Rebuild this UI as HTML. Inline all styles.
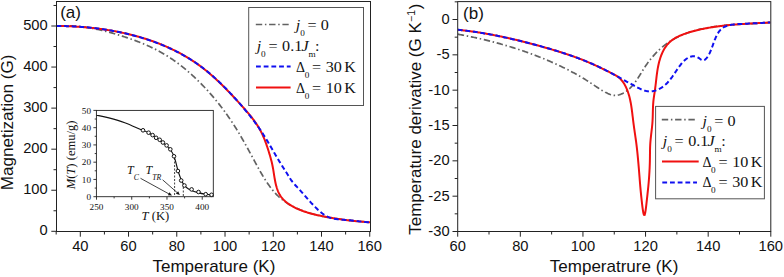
<!DOCTYPE html>
<html><head><meta charset="utf-8"><style>
html,body{margin:0;padding:0;background:#fff;}
body{width:784px;height:277px;overflow:hidden;}
svg{display:block;}
</style></head><body>
<svg width="784" height="277" viewBox="0 0 784 277">
<rect width="784" height="277" fill="#fff"/>
<defs><clipPath id="cl"><rect x="56.5" y="1.5" width="314.0" height="230.0"/></clipPath><clipPath id="cr"><rect x="457.7" y="1.6" width="313.1" height="229.9"/></clipPath></defs>
<g clip-path="url(#cl)" fill="none">
<path d="M56.48 26.21 L57.47 26.13 L58.47 26.06 L59.47 26.00 L60.46 25.94 L61.46 25.90 L62.46 25.86 L63.45 25.84 L64.45 25.82 L65.45 25.81 L66.45 25.80 L67.45 25.81 L68.44 25.82 L69.44 25.85 L70.44 25.88 L71.44 25.91 L72.43 25.96 L73.43 26.01 L74.43 26.07 L75.42 26.14 L76.42 26.21 L77.41 26.30 L78.41 26.38 L79.40 26.48 L80.39 26.58 L81.39 26.69 L82.38 26.81 L83.37 26.93 L84.36 27.06 L85.35 27.20 L86.33 27.34 L87.32 27.49 L88.31 27.65 L89.29 27.81 L90.28 27.97 L91.26 28.15 L92.24 28.33 L93.22 28.51 L94.20 28.70 L95.18 28.89 L96.16 29.09 L97.14 29.30 L98.11 29.51 L99.09 29.72 L100.06 29.94 L101.03 30.17 L102.00 30.39 L102.97 30.63 L103.94 30.87 L104.91 31.11 L105.88 31.35 L106.84 31.60 L107.81 31.86 L108.77 32.12 L109.74 32.38 L110.70 32.64 L111.66 32.91 L112.62 33.19 L113.58 33.46 L114.54 33.74 L115.50 34.02 L116.45 34.31 L117.41 34.60 L118.36 34.89 L119.32 35.18 L120.27 35.48 L121.22 35.78 L122.17 36.08 L123.12 36.39 L124.07 36.69 L125.02 37.00 L125.97 37.32 L126.91 37.63 L127.86 37.95 L128.80 38.28 L129.75 38.60 L130.69 38.93 L131.63 39.27 L132.57 39.60 L133.51 39.94 L134.44 40.29 L135.38 40.63 L136.31 40.99 L137.25 41.34 L138.18 41.70 L139.11 42.06 L140.04 42.43 L140.96 42.80 L141.89 43.18 L142.81 43.56 L143.73 43.95 L144.65 44.33 L145.57 44.73 L146.48 45.13 L147.39 45.53 L148.31 45.94 L149.21 46.35 L150.12 46.77 L151.02 47.19 L151.93 47.62 L152.83 48.05 L153.72 48.49 L154.62 48.93 L155.51 49.38 L156.40 49.84 L157.28 50.30 L158.17 50.76 L159.05 51.23 L159.92 51.71 L160.80 52.19 L161.67 52.68 L162.54 53.17 L163.40 53.67 L164.26 54.17 L165.12 54.69 L165.97 55.20 L166.82 55.73 L167.67 56.25 L168.51 56.79 L169.35 57.33 L170.19 57.87 L171.02 58.43 L171.85 58.98 L172.67 59.54 L173.49 60.11 L174.31 60.68 L175.13 61.26 L175.94 61.84 L176.74 62.43 L177.55 63.02 L178.35 63.62 L179.14 64.22 L179.94 64.83 L180.72 65.44 L181.51 66.05 L182.29 66.67 L183.07 67.30 L183.85 67.93 L184.62 68.56 L185.39 69.20 L186.15 69.84 L186.91 70.48 L187.67 71.13 L188.43 71.78 L189.18 72.44 L189.93 73.10 L190.67 73.76 L191.42 74.43 L192.16 75.10 L192.89 75.78 L193.62 76.45 L194.35 77.13 L195.08 77.82 L195.80 78.51 L196.52 79.20 L197.24 79.89 L197.95 80.59 L198.66 81.29 L199.37 81.99 L200.08 82.70 L200.78 83.41 L201.48 84.12 L202.17 84.84 L202.87 85.55 L203.56 86.28 L204.25 87.00 L204.93 87.72 L205.61 88.45 L206.29 89.19 L206.97 89.92 L207.64 90.66 L208.31 91.40 L208.98 92.14 L209.64 92.88 L210.30 93.63 L210.96 94.38 L211.62 95.13 L212.27 95.89 L212.92 96.65 L213.56 97.41 L214.21 98.17 L214.85 98.94 L215.49 99.71 L216.12 100.48 L216.75 101.25 L217.38 102.03 L218.00 102.80 L218.63 103.58 L219.24 104.37 L219.86 105.15 L220.47 105.94 L221.08 106.73 L221.69 107.52 L222.29 108.32 L222.89 109.11 L223.49 109.91 L224.09 110.72 L224.68 111.52 L225.26 112.33 L225.85 113.14 L226.43 113.95 L227.01 114.76 L227.59 115.58 L228.16 116.39 L228.73 117.21 L229.29 118.03 L229.86 118.86 L230.42 119.68 L230.97 120.51 L231.53 121.34 L232.08 122.18 L232.63 123.01 L233.17 123.85 L233.71 124.69 L234.25 125.53 L234.78 126.37 L235.31 127.21 L235.84 128.06 L236.37 128.91 L236.89 129.76 L237.41 130.61 L237.93 131.46 L238.45 132.32 L238.96 133.17 L239.47 134.03 L239.98 134.89 L240.48 135.75 L240.99 136.61 L241.49 137.48 L241.99 138.34 L242.49 139.21 L242.98 140.07 L243.48 140.94 L243.97 141.81 L244.46 142.68 L244.95 143.55 L245.43 144.42 L245.92 145.29 L246.40 146.16 L246.89 147.04 L247.37 147.91 L247.85 148.78 L248.33 149.66 L248.81 150.54 L249.29 151.41 L249.76 152.29 L250.24 153.16 L250.72 154.04 L251.19 154.92 L251.67 155.80 L252.14 156.68 L252.61 157.55 L253.09 158.43 L253.56 159.31 L254.04 160.19 L254.51 161.07 L254.98 161.95 L255.46 162.82 L255.93 163.70 L256.41 164.58 L256.89 165.46 L257.37 166.33 L257.85 167.21 L258.33 168.08 L258.82 168.95 L259.31 169.82 L259.80 170.69 L260.29 171.56 L260.79 172.42 L261.29 173.29 L261.79 174.15 L262.30 175.01 L262.81 175.86 L263.33 176.72 L263.85 177.57 L264.38 178.42 L264.91 179.26 L265.45 180.10 L265.99 180.94 L266.54 181.77 L267.09 182.60 L267.65 183.43 L268.22 184.25 L268.79 185.07 L269.37 185.88 L269.96 186.69 L270.56 187.49 L271.16 188.28 L271.78 189.07 L272.40 189.85 L273.04 190.62 L273.68 191.38 L274.33 192.13 L275.00 192.88 L275.67 193.61 L276.36 194.33 L277.06 195.05 L277.77 195.75 L278.50 196.43 L279.23 197.11 L279.98 197.77 L280.74 198.42 L281.51 199.05 L282.29 199.68 L283.08 200.29 L283.88 200.88 L284.69 201.47 L285.51 202.04 L286.34 202.59 L287.17 203.14 L288.02 203.67 L288.87 204.19 L289.73 204.70 L290.59 205.20 L291.46 205.68 L292.34 206.15 L293.23 206.61 L294.12 207.06 L295.02 207.50 L295.92 207.93 L296.82 208.35 L297.74 208.76 L298.65 209.15 L299.57 209.54 L300.50 209.92 L301.42 210.28 L302.35 210.64 L303.29 210.99 L304.23 211.33 L305.17 211.66 L306.11 211.98 L307.06 212.30 L308.01 212.60 L308.96 212.90 L309.92 213.19 L310.88 213.48 L311.84 213.75 L312.80 214.02 L313.76 214.28 L314.73 214.53 L315.69 214.78 L316.66 215.02 L317.63 215.26 L318.60 215.49 L319.58 215.71 L320.55 215.92 L321.53 216.14 L322.50 216.34 L323.48 216.54 L324.46 216.74 L325.44 216.93 L326.42 217.11 L327.40 217.30 L328.38 217.47 L329.37 217.64 L330.35 217.81 L331.33 217.97 L332.32 218.13 L333.31 218.29 L334.29 218.44 L335.28 218.59 L336.27 218.73 L337.26 218.87 L338.24 219.01 L339.23 219.14 L340.22 219.27 L341.21 219.40 L342.20 219.52 L343.19 219.64 L344.19 219.76 L345.18 219.88 L346.17 219.99 L347.16 220.10 L348.15 220.21 L349.14 220.32 L350.14 220.42 L351.13 220.52 L352.12 220.63 L353.12 220.73 L354.11 220.83 L355.10 220.92 L356.10 221.02 L357.09 221.12 L358.08 221.21 L359.08 221.31 L360.07 221.40 L361.06 221.49 L362.06 221.59 L363.05 221.68 L364.04 221.77 L365.04 221.87 L366.03 221.96 L367.03 222.05 L368.02 222.15 L369.01 222.24 L370.01 222.34" stroke="#626262" stroke-width="1.7" stroke-dasharray="6.4 2.7 1.5 2.7"/>
<path d="M56.67 25.93 L57.67 25.94 L58.67 25.96 L59.67 25.97 L60.66 25.99 L61.66 26.01 L62.66 26.03 L63.66 26.06 L64.66 26.08 L65.66 26.11 L66.66 26.15 L67.66 26.18 L68.65 26.22 L69.65 26.26 L70.65 26.31 L71.65 26.35 L72.65 26.40 L73.64 26.45 L74.64 26.51 L75.64 26.57 L76.63 26.63 L77.63 26.69 L78.63 26.76 L79.63 26.83 L80.62 26.90 L81.62 26.97 L82.61 27.05 L83.61 27.13 L84.61 27.21 L85.60 27.30 L86.60 27.39 L87.59 27.48 L88.58 27.57 L89.58 27.67 L90.57 27.77 L91.57 27.88 L92.56 27.98 L93.55 28.09 L94.55 28.21 L95.54 28.32 L96.53 28.44 L97.52 28.56 L98.51 28.69 L99.50 28.82 L100.49 28.95 L101.48 29.08 L102.47 29.22 L103.46 29.36 L104.45 29.51 L105.44 29.65 L106.43 29.81 L107.41 29.96 L108.40 30.12 L109.38 30.28 L110.37 30.44 L111.36 30.61 L112.34 30.78 L113.32 30.96 L114.31 31.13 L115.29 31.32 L116.27 31.50 L117.25 31.69 L118.23 31.88 L119.21 32.08 L120.19 32.28 L121.17 32.48 L122.15 32.68 L123.12 32.89 L124.10 33.11 L125.07 33.32 L126.05 33.55 L127.02 33.77 L127.99 34.00 L128.97 34.23 L129.94 34.47 L130.91 34.71 L131.88 34.95 L132.84 35.20 L133.81 35.45 L134.78 35.70 L135.74 35.96 L136.70 36.22 L137.67 36.49 L138.63 36.76 L139.59 37.04 L140.55 37.31 L141.51 37.60 L142.46 37.88 L143.42 38.17 L144.37 38.47 L145.33 38.77 L146.28 39.07 L147.23 39.38 L148.18 39.69 L149.13 40.01 L150.07 40.33 L151.02 40.65 L151.96 40.98 L152.90 41.31 L153.84 41.65 L154.78 41.99 L155.72 42.34 L156.65 42.69 L157.59 43.04 L158.52 43.40 L159.45 43.77 L160.38 44.14 L161.31 44.51 L162.23 44.89 L163.15 45.27 L164.08 45.66 L164.99 46.05 L165.91 46.44 L166.83 46.84 L167.74 47.25 L168.65 47.66 L169.56 48.07 L170.47 48.49 L171.37 48.92 L172.27 49.35 L173.17 49.78 L174.07 50.22 L174.97 50.66 L175.86 51.11 L176.75 51.56 L177.64 52.02 L178.52 52.48 L179.41 52.95 L180.29 53.42 L181.16 53.90 L182.04 54.38 L182.91 54.87 L183.78 55.36 L184.65 55.86 L185.51 56.36 L186.37 56.87 L187.23 57.38 L188.08 57.90 L188.93 58.42 L189.78 58.95 L190.63 59.48 L191.47 60.02 L192.31 60.56 L193.14 61.11 L193.98 61.66 L194.80 62.22 L195.63 62.78 L196.45 63.35 L197.27 63.92 L198.08 64.50 L198.90 65.09 L199.70 65.67 L200.51 66.27 L201.31 66.87 L202.10 67.47 L202.89 68.08 L203.68 68.69 L204.47 69.31 L205.25 69.93 L206.03 70.56 L206.80 71.19 L207.57 71.82 L208.34 72.46 L209.11 73.11 L209.87 73.75 L210.62 74.41 L211.38 75.06 L212.13 75.72 L212.88 76.38 L213.62 77.05 L214.37 77.71 L215.10 78.39 L215.84 79.06 L216.57 79.74 L217.31 80.42 L218.03 81.10 L218.76 81.79 L219.48 82.48 L220.20 83.17 L220.92 83.87 L221.63 84.57 L222.35 85.27 L223.06 85.97 L223.77 86.67 L224.47 87.38 L225.18 88.09 L225.88 88.80 L226.58 89.51 L227.27 90.23 L227.97 90.94 L228.66 91.66 L229.36 92.38 L230.05 93.11 L230.74 93.83 L231.42 94.55 L232.11 95.28 L232.79 96.01 L233.48 96.74 L234.16 97.47 L234.84 98.20 L235.52 98.93 L236.20 99.67 L236.87 100.40 L237.55 101.14 L238.22 101.87 L238.90 102.61 L239.57 103.35 L240.24 104.09 L240.92 104.83 L241.59 105.57 L242.26 106.31 L242.92 107.05 L243.59 107.79 L244.25 108.54 L244.92 109.29 L245.58 110.04 L246.23 110.79 L246.89 111.55 L247.53 112.31 L248.18 113.07 L248.82 113.84 L249.46 114.61 L250.09 115.38 L250.72 116.16 L251.34 116.94 L251.95 117.73 L252.56 118.52 L253.17 119.31 L253.76 120.12 L254.35 120.92 L254.93 121.74 L255.50 122.56 L256.07 123.38 L256.62 124.21 L257.17 125.05 L257.70 125.89 L258.23 126.74 L258.75 127.59 L259.25 128.46 L259.75 129.32 L260.23 130.20 L260.70 131.08 L261.16 131.97 L261.61 132.86 L262.05 133.76 L262.47 134.66 L262.89 135.57 L263.29 136.48 L263.68 137.40 L264.07 138.32 L264.44 139.25 L264.81 140.18 L265.17 141.11 L265.52 142.05 L265.87 142.98 L266.21 143.92 L266.54 144.87 L266.86 145.81 L267.18 146.76 L267.50 147.70 L267.81 148.65 L268.11 149.60 L268.42 150.56 L268.72 151.51 L269.01 152.46 L269.30 153.42 L269.59 154.38 L269.88 155.33 L270.16 156.29 L270.43 157.25 L270.70 158.22 L270.96 159.18 L271.22 160.15 L271.46 161.11 L271.70 162.08 L271.93 163.06 L272.15 164.03 L272.36 165.01 L272.56 165.99 L272.75 166.97 L272.94 167.95 L273.11 168.93 L273.28 169.92 L273.44 170.90 L273.60 171.89 L273.75 172.88 L273.91 173.86 L274.06 174.85 L274.22 175.84 L274.38 176.82 L274.54 177.81 L274.71 178.79 L274.89 179.78 L275.07 180.76 L275.27 181.74 L275.47 182.72 L275.69 183.69 L275.92 184.66 L276.17 185.63 L276.43 186.59 L276.71 187.55 L277.01 188.50 L277.34 189.45 L277.69 190.39 L278.06 191.31 L278.46 192.23 L278.89 193.13 L279.36 194.01 L279.85 194.88 L280.38 195.73 L280.94 196.56 L281.53 197.36 L282.15 198.14 L282.81 198.90 L283.49 199.63 L284.19 200.34 L284.92 201.02 L285.67 201.68 L286.44 202.32 L287.22 202.94 L288.03 203.53 L288.84 204.11 L289.67 204.66 L290.52 205.20 L291.37 205.72 L292.23 206.22 L293.11 206.70 L293.99 207.17 L294.88 207.62 L295.78 208.06 L296.68 208.49 L297.59 208.90 L298.51 209.29 L299.43 209.68 L300.36 210.05 L301.29 210.42 L302.22 210.77 L303.16 211.11 L304.11 211.44 L305.05 211.76 L306.00 212.07 L306.95 212.38 L307.91 212.67 L308.87 212.95 L309.83 213.23 L310.79 213.50 L311.75 213.76 L312.72 214.01 L313.69 214.25 L314.66 214.49 L315.63 214.72 L316.60 214.95 L317.58 215.16 L318.55 215.38 L319.53 215.59 L320.51 215.79 L321.49 215.99 L322.47 216.18 L323.45 216.38 L324.43 216.56 L325.41 216.75 L326.39 216.93 L327.38 217.11 L328.36 217.29 L329.34 217.47 L330.33 217.64 L331.31 217.81 L332.30 217.97 L333.28 218.14 L334.27 218.30 L335.25 218.46 L336.24 218.61 L337.23 218.77 L338.22 218.92 L339.20 219.07 L340.19 219.21 L341.18 219.35 L342.17 219.49 L343.16 219.63 L344.15 219.76 L345.14 219.89 L346.13 220.02 L347.12 220.15 L348.11 220.27 L349.10 220.39 L350.10 220.51 L351.09 220.62 L352.08 220.74 L353.07 220.85 L354.07 220.95 L355.06 221.06 L356.06 221.16 L357.05 221.25 L358.04 221.35 L359.04 221.44 L360.03 221.53 L361.03 221.62 L362.02 221.70 L363.02 221.78 L364.02 221.86 L365.01 221.94 L366.01 222.01 L367.01 222.08 L368.00 222.14 L369.00 222.21 L370.00 222.27" stroke="#f01010" stroke-width="2"/>
<path d="M56.52 26.02 L57.52 26.01 L58.52 26.02 L59.51 26.02 L60.51 26.03 L61.51 26.04 L62.51 26.05 L63.51 26.07 L64.51 26.09 L65.51 26.11 L66.50 26.13 L67.50 26.16 L68.50 26.19 L69.50 26.23 L70.50 26.26 L71.49 26.30 L72.49 26.35 L73.49 26.39 L74.49 26.44 L75.48 26.50 L76.48 26.55 L77.48 26.61 L78.47 26.67 L79.47 26.74 L80.47 26.81 L81.46 26.88 L82.46 26.95 L83.45 27.03 L84.45 27.11 L85.45 27.20 L86.44 27.28 L87.43 27.37 L88.43 27.47 L89.42 27.57 L90.42 27.67 L91.41 27.77 L92.40 27.88 L93.39 27.99 L94.39 28.10 L95.38 28.22 L96.37 28.34 L97.36 28.46 L98.35 28.59 L99.34 28.72 L100.33 28.85 L101.32 28.99 L102.31 29.13 L103.30 29.27 L104.28 29.42 L105.27 29.57 L106.26 29.72 L107.24 29.88 L108.23 30.04 L109.22 30.21 L110.20 30.37 L111.18 30.55 L112.17 30.72 L113.15 30.90 L114.13 31.08 L115.11 31.27 L116.09 31.45 L117.07 31.65 L118.05 31.84 L119.03 32.04 L120.01 32.24 L120.99 32.45 L121.96 32.66 L122.94 32.87 L123.91 33.09 L124.89 33.31 L125.86 33.54 L126.83 33.76 L127.80 34.00 L128.77 34.23 L129.74 34.47 L130.71 34.71 L131.68 34.96 L132.65 35.21 L133.61 35.46 L134.58 35.72 L135.54 35.98 L136.50 36.25 L137.47 36.51 L138.43 36.79 L139.39 37.06 L140.34 37.34 L141.30 37.63 L142.26 37.92 L143.21 38.21 L144.17 38.51 L145.12 38.81 L146.07 39.11 L147.02 39.42 L147.97 39.73 L148.91 40.05 L149.86 40.37 L150.80 40.69 L151.75 41.02 L152.69 41.35 L153.63 41.69 L154.57 42.03 L155.50 42.38 L156.44 42.73 L157.37 43.08 L158.31 43.44 L159.24 43.80 L160.16 44.17 L161.09 44.54 L162.02 44.92 L162.94 45.30 L163.86 45.68 L164.78 46.07 L165.70 46.47 L166.61 46.87 L167.53 47.27 L168.44 47.68 L169.35 48.09 L170.26 48.50 L171.16 48.92 L172.07 49.35 L172.97 49.78 L173.87 50.22 L174.76 50.66 L175.66 51.10 L176.55 51.55 L177.44 52.00 L178.32 52.46 L179.21 52.93 L180.09 53.39 L180.97 53.87 L181.85 54.35 L182.72 54.83 L183.59 55.32 L184.46 55.81 L185.33 56.31 L186.19 56.81 L187.05 57.32 L187.91 57.83 L188.76 58.34 L189.61 58.87 L190.46 59.39 L191.31 59.93 L192.15 60.46 L192.99 61.00 L193.82 61.55 L194.66 62.10 L195.48 62.66 L196.31 63.22 L197.13 63.79 L197.95 64.36 L198.77 64.94 L199.58 65.52 L200.38 66.11 L201.19 66.70 L201.99 67.30 L202.79 67.90 L203.58 68.51 L204.37 69.12 L205.15 69.73 L205.94 70.35 L206.72 70.98 L207.49 71.61 L208.26 72.24 L209.03 72.88 L209.80 73.52 L210.56 74.16 L211.32 74.81 L212.07 75.47 L212.83 76.12 L213.57 76.79 L214.32 77.45 L215.06 78.12 L215.80 78.79 L216.54 79.46 L217.27 80.14 L218.00 80.82 L218.73 81.51 L219.45 82.19 L220.17 82.89 L220.89 83.58 L221.61 84.28 L222.32 84.97 L223.03 85.68 L223.74 86.38 L224.44 87.09 L225.15 87.80 L225.84 88.51 L226.54 89.23 L227.24 89.94 L227.93 90.66 L228.62 91.39 L229.31 92.11 L229.99 92.84 L230.67 93.57 L231.35 94.30 L232.03 95.03 L232.71 95.76 L233.38 96.50 L234.06 97.24 L234.73 97.98 L235.39 98.72 L236.06 99.46 L236.73 100.21 L237.39 100.96 L238.05 101.71 L238.71 102.46 L239.37 103.21 L240.02 103.96 L240.68 104.71 L241.33 105.47 L241.98 106.23 L242.63 106.99 L243.28 107.75 L243.92 108.51 L244.57 109.27 L245.21 110.04 L245.85 110.80 L246.48 111.57 L247.12 112.34 L247.75 113.12 L248.38 113.89 L249.01 114.67 L249.63 115.45 L250.25 116.23 L250.87 117.01 L251.49 117.80 L252.10 118.59 L252.71 119.38 L253.32 120.17 L253.92 120.97 L254.52 121.76 L255.12 122.57 L255.71 123.37 L256.30 124.17 L256.89 124.98 L257.47 125.79 L258.05 126.61 L258.62 127.43 L259.19 128.25 L259.76 129.07 L260.32 129.89 L260.88 130.72 L261.43 131.55 L261.98 132.39 L262.53 133.22 L263.07 134.06 L263.60 134.91 L264.14 135.75 L264.67 136.60 L265.19 137.45 L265.72 138.30 L266.24 139.15 L266.75 140.00 L267.27 140.86 L267.78 141.71 L268.29 142.57 L268.80 143.43 L269.31 144.29 L269.82 145.15 L270.32 146.01 L270.83 146.88 L271.33 147.74 L271.83 148.60 L272.33 149.46 L272.83 150.33 L273.34 151.19 L273.84 152.05 L274.34 152.92 L274.84 153.78 L275.35 154.64 L275.85 155.51 L276.36 156.37 L276.86 157.23 L277.37 158.09 L277.88 158.95 L278.39 159.80 L278.91 160.66 L279.42 161.51 L279.94 162.37 L280.46 163.22 L280.99 164.07 L281.52 164.92 L282.05 165.76 L282.58 166.60 L283.12 167.45 L283.66 168.29 L284.20 169.12 L284.75 169.96 L285.29 170.80 L285.83 171.64 L286.37 172.48 L286.90 173.33 L287.43 174.17 L287.95 175.03 L288.47 175.88 L288.99 176.73 L289.51 177.58 L290.05 178.43 L290.59 179.26 L291.15 180.09 L291.73 180.90 L292.33 181.70 L292.96 182.48 L293.60 183.24 L294.26 183.99 L294.93 184.73 L295.61 185.47 L296.29 186.19 L296.98 186.92 L297.66 187.64 L298.35 188.37 L299.03 189.10 L299.70 189.84 L300.37 190.58 L301.04 191.32 L301.70 192.07 L302.37 192.82 L303.02 193.57 L303.68 194.32 L304.34 195.07 L304.99 195.82 L305.65 196.58 L306.30 197.33 L306.96 198.08 L307.62 198.84 L308.28 199.59 L308.94 200.33 L309.60 201.08 L310.27 201.82 L310.94 202.56 L311.61 203.30 L312.29 204.03 L312.97 204.76 L313.66 205.49 L314.36 206.20 L315.06 206.92 L315.76 207.62 L316.48 208.32 L317.20 209.01 L317.92 209.70 L318.66 210.37 L319.40 211.04 L320.16 211.69 L320.92 212.33 L321.70 212.96 L322.49 213.57 L323.29 214.16 L324.12 214.73 L324.95 215.27 L325.81 215.79 L326.68 216.27 L327.58 216.71 L328.49 217.12 L329.42 217.48 L330.37 217.81 L331.32 218.10 L332.29 218.35 L333.26 218.58 L334.24 218.77 L335.22 218.94 L336.21 219.09 L337.20 219.22 L338.19 219.34 L339.19 219.44 L340.18 219.53 L341.18 219.61 L342.17 219.68 L343.17 219.75 L344.16 219.81 L345.16 219.88 L346.16 219.95 L347.15 220.03 L348.15 220.11 L349.14 220.20 L350.14 220.30 L351.13 220.41 L352.12 220.52 L353.11 220.64 L354.10 220.76 L355.09 220.88 L356.09 221.01 L357.08 221.13 L358.07 221.26 L359.06 221.38 L360.05 221.50 L361.04 221.62 L362.03 221.73 L363.03 221.83 L364.02 221.93 L365.01 222.02 L366.01 222.10 L367.01 222.17 L368.00 222.23 L369.00 222.27 L370.00 222.30" stroke="#1010f0" stroke-width="2" stroke-dasharray="4.8 2.8"/>
</g>
<rect x="56.5" y="1.5" width="314.0" height="230.0" fill="none" stroke="#222" stroke-width="1"/>
<path d="M51.3 231.30H56.5 M53.5 210.77H56.5 M51.3 190.24H56.5 M53.5 169.71H56.5 M51.3 149.18H56.5 M53.5 128.65H56.5 M51.3 108.12H56.5 M53.5 87.59H56.5 M51.3 67.06H56.5 M53.5 46.53H56.5 M51.3 26.00H56.5 M53.5 5.47H56.5 M56.18 231.5V234.5 M80.30 231.5V236.7 M104.42 231.5V234.5 M128.54 231.5V236.7 M152.66 231.5V234.5 M176.78 231.5V236.7 M200.90 231.5V234.5 M225.02 231.5V236.7 M249.14 231.5V234.5 M273.26 231.5V236.7 M297.38 231.5V234.5 M321.50 231.5V236.7 M345.62 231.5V234.5 M369.74 231.5V236.7" stroke="#222" stroke-width="1" fill="none"/>
<g font-family="Liberation Sans, sans-serif" font-size="14.7" fill="#111" text-anchor="end">
<text x="47.7" y="235.3">0</text>
<text x="47.7" y="194.2">100</text>
<text x="47.7" y="153.2">200</text>
<text x="47.7" y="112.1">300</text>
<text x="47.7" y="71.1">400</text>
<text x="47.7" y="30.0">500</text>
</g><g font-family="Liberation Sans, sans-serif" font-size="14.7" fill="#111" text-anchor="middle">
<text x="80.3" y="250.8">40</text>
<text x="128.5" y="250.8">60</text>
<text x="176.8" y="250.8">80</text>
<text x="225.0" y="250.8">100</text>
<text x="273.3" y="250.8">120</text>
<text x="321.5" y="250.8">140</text>
<text x="369.7" y="250.8">160</text>
</g>
<text x="152.5" y="271.7" font-family="Liberation Sans, sans-serif" font-size="17" fill="#111">Temperature (K)</text>
<text transform="translate(13.4,122.4) rotate(-90)" text-anchor="middle" font-family="Liberation Sans, sans-serif" font-size="17.1" fill="#111">Magnetization (G)</text>
<text x="60.2" y="18.4" font-family="Liberation Sans, sans-serif" font-size="17" fill="#111">(a)</text>
<rect x="248.7" y="7.5" width="114.8" height="98" fill="#fff" stroke="#555" stroke-width="1"/>
<path d="M255.8 24.5H288.7" stroke="#626262" stroke-width="1.7" stroke-dasharray="6.4 2.7 1.5 2.7"/>
<path d="M256 87.4H290.6" stroke="#f01010" stroke-width="2"/>
<path d="M256 66.6H290.6" stroke="#1010f0" stroke-width="2" stroke-dasharray="4.8 2.9"/>
<text transform="translate(295.77,29.70) scale(1.040,1)" font-family="Liberation Serif, serif" fill="#111" font-size="15.5" font-style="italic">j</text><text x="300.20" y="35.70" font-family="Liberation Serif, serif" fill="#111" font-size="9.2">0</text><text transform="translate(307.62,29.70) scale(1.040,1)" font-family="Liberation Serif, serif" fill="#111" font-size="15.5">=</text><text transform="translate(320.80,29.70) scale(1.040,1)" font-family="Liberation Serif, serif" fill="#111" font-size="15.5">0</text>
<text transform="translate(256.67,50.80) scale(1.040,1)" font-family="Liberation Serif, serif" fill="#111" font-size="15.5" font-style="italic">j</text><text x="261.10" y="56.80" font-family="Liberation Serif, serif" fill="#111" font-size="9.2">0</text><text transform="translate(268.52,50.80) scale(1.040,1)" font-family="Liberation Serif, serif" fill="#111" font-size="15.5">=</text><text transform="translate(282.10,50.80) scale(1.040,1)" font-family="Liberation Serif, serif" fill="#111" font-size="15.5">0.1</text><text transform="translate(301.50,50.80) scale(1.040,1)" font-family="Liberation Serif, serif" fill="#111" font-size="15.5" font-style="italic">J</text><text x="308.40" y="56.80" font-family="Liberation Serif, serif" fill="#111" font-size="9.2">m</text><text transform="translate(315.12,50.80) scale(1.040,1)" font-family="Liberation Serif, serif" fill="#111" font-size="15.5">:</text>
<text x="296.10" y="71.50" font-family="Liberation Serif, serif" fill="#111" font-size="14">&#916;</text><text x="304.70" y="77.50" font-family="Liberation Serif, serif" fill="#111" font-size="9.2">0</text><text transform="translate(312.12,71.50) scale(1.040,1)" font-family="Liberation Serif, serif" fill="#111" font-size="15.5">=</text><text transform="translate(325.80,71.50) scale(1.040,1)" font-family="Liberation Serif, serif" fill="#111" font-size="15.5">30</text><text transform="translate(344.30,71.50) scale(1.040,1)" font-family="Liberation Serif, serif" fill="#111" font-size="15.5">K</text>
<text x="296.10" y="92.50" font-family="Liberation Serif, serif" fill="#111" font-size="14">&#916;</text><text x="304.70" y="98.50" font-family="Liberation Serif, serif" fill="#111" font-size="9.2">0</text><text transform="translate(312.12,92.50) scale(1.040,1)" font-family="Liberation Serif, serif" fill="#111" font-size="15.5">=</text><text transform="translate(325.80,92.50) scale(1.040,1)" font-family="Liberation Serif, serif" fill="#111" font-size="15.5">10</text><text transform="translate(344.30,92.50) scale(1.040,1)" font-family="Liberation Serif, serif" fill="#111" font-size="15.5">K</text>
<rect x="96.4" y="110.4" width="116.9" height="86.3" fill="#fff" stroke="none"/>
<path d="M93.4 196.70H96.4 M94.7 188.07H96.4 M93.4 179.44H96.4 M94.7 170.81H96.4 M93.4 162.18H96.4 M94.7 153.55H96.4 M93.4 144.92H96.4 M94.7 136.29H96.4 M93.4 127.66H96.4 M94.7 119.03H96.4 M93.4 110.40H96.4 M96.50 196.7V199.7 M114.12 196.7V198.4 M131.74 196.7V199.7 M149.36 196.7V198.4 M166.98 196.7V199.7 M184.60 196.7V198.4 M202.22 196.7V199.7" stroke="#222" stroke-width="0.9" fill="none"/>
<rect x="96.4" y="110.4" width="116.9" height="86.3" fill="none" stroke="#222" stroke-width="0.9"/>
<g font-family="Liberation Serif, serif" font-size="9.2" fill="#111" text-anchor="end">
<text x="91" y="199.8">0</text>
<text x="91" y="182.5">10</text>
<text x="91" y="165.3">20</text>
<text x="91" y="148.0">30</text>
<text x="91" y="130.8">40</text>
<text x="91" y="113.5">50</text>
</g><g font-family="Liberation Serif, serif" font-size="9.2" fill="#111" text-anchor="middle">
<text x="96.5" y="210.3">250</text>
<text x="131.7" y="210.3">300</text>
<text x="167.0" y="210.3">350</text>
<text x="202.2" y="210.3">400</text>
</g>
<text x="141.6" y="220.3" font-family="Liberation Serif, serif" fill="#111" font-size="12.6"><tspan font-style="italic">T</tspan> (K)</text>
<text transform="translate(75.4,154.9) rotate(-90)" text-anchor="middle" font-family="Liberation Serif, serif" fill="#111" font-size="12.6"><tspan font-style="italic">M</tspan>(<tspan font-style="italic">T</tspan>) (emu/g)</text>
<text x="127" y="174.2" font-family="Liberation Serif, serif" fill="#111" font-size="12" font-style="italic">T<tspan font-size="7.8" dy="6">C</tspan></text>
<text x="145.5" y="174.2" font-family="Liberation Serif, serif" fill="#111" font-size="12" font-style="italic">T<tspan font-size="7.8" dy="6">TR</tspan></text>
<path d="M174.6 158V196.5M183.3 183.5V196.5" stroke="#111" stroke-width="0.8" stroke-dasharray="2 1.5"/>
<path d="M140.50 178.30L169.11 194.01" stroke="#111" stroke-width="0.8"/><path d="M172.00 195.60L167.85 195.26L169.49 192.28Z" fill="#111"/>
<path d="M162.60 179.80L177.42 192.82" stroke="#111" stroke-width="0.8"/><path d="M179.90 195.00L175.92 193.77L178.17 191.21Z" fill="#111"/>
<path d="M96.50 115.20 C98.57 115.65 104.18 116.65 108.90 117.90 C113.62 119.15 119.50 120.77 124.80 122.70 C130.10 124.63 136.73 127.83 140.70 129.50 C144.67 131.17 146.03 131.35 148.60 132.70 C151.17 134.05 153.72 135.97 156.10 137.60 C158.48 139.23 160.83 140.85 162.90 142.50 C164.97 144.15 166.90 145.75 168.50 147.50 C170.10 149.25 171.38 150.92 172.50 153.00 C173.62 155.08 174.32 157.17 175.20 160.00 C176.08 162.83 176.92 167.00 177.80 170.00 C178.68 173.00 179.60 175.70 180.50 178.00 C181.40 180.30 182.20 182.22 183.20 183.80 C184.20 185.38 185.20 186.43 186.50 187.50 C187.80 188.57 189.08 189.35 191.00 190.20 C192.92 191.05 195.58 191.93 198.00 192.60 C200.42 193.27 203.00 193.80 205.50 194.20 C208.00 194.60 211.75 194.87 213.00 195.00" stroke="#111" stroke-width="1.1" fill="none"/>
<circle cx="143.0" cy="130.3" r="1.8" fill="#fff" stroke="#111" stroke-width="1.0"/><circle cx="148.6" cy="132.7" r="1.8" fill="#fff" stroke="#111" stroke-width="1.0"/><circle cx="152.6" cy="135.1" r="1.8" fill="#fff" stroke="#111" stroke-width="1.0"/><circle cx="156.1" cy="137.8" r="1.8" fill="#fff" stroke="#111" stroke-width="1.0"/><circle cx="159.7" cy="139.8" r="1.8" fill="#fff" stroke="#111" stroke-width="1.0"/><circle cx="162.9" cy="142.5" r="1.8" fill="#fff" stroke="#111" stroke-width="1.0"/><circle cx="166.6" cy="145.4" r="1.8" fill="#fff" stroke="#111" stroke-width="1.0"/><circle cx="170.3" cy="149.3" r="1.8" fill="#fff" stroke="#111" stroke-width="1.0"/><circle cx="174.0" cy="156.3" r="1.8" fill="#fff" stroke="#111" stroke-width="1.0"/><circle cx="177.9" cy="171.0" r="1.8" fill="#fff" stroke="#111" stroke-width="1.0"/><circle cx="181.2" cy="180.5" r="1.8" fill="#fff" stroke="#111" stroke-width="1.0"/><circle cx="184.4" cy="185.5" r="1.8" fill="#fff" stroke="#111" stroke-width="1.0"/><circle cx="191.6" cy="189.4" r="1.8" fill="#fff" stroke="#111" stroke-width="1.0"/><circle cx="198.5" cy="192.0" r="1.8" fill="#fff" stroke="#111" stroke-width="1.0"/><circle cx="205.7" cy="194.2" r="1.8" fill="#fff" stroke="#111" stroke-width="1.0"/><circle cx="211.5" cy="194.8" r="1.8" fill="#fff" stroke="#111" stroke-width="1.0"/>
<g clip-path="url(#cr)" fill="none">
<path d="M457.77 34.19 L458.75 34.37 L459.74 34.55 L460.72 34.73 L461.70 34.91 L462.68 35.10 L463.66 35.28 L464.64 35.47 L465.62 35.66 L466.60 35.85 L467.58 36.05 L468.55 36.24 L469.53 36.44 L470.51 36.64 L471.49 36.85 L472.46 37.05 L473.44 37.26 L474.41 37.47 L475.39 37.68 L476.36 37.89 L477.34 38.11 L478.31 38.33 L479.28 38.55 L480.26 38.77 L481.23 38.99 L482.20 39.22 L483.17 39.45 L484.14 39.68 L485.11 39.91 L486.08 40.14 L487.05 40.38 L488.02 40.62 L488.99 40.86 L489.96 41.10 L490.92 41.35 L491.89 41.60 L492.86 41.85 L493.82 42.10 L494.79 42.36 L495.75 42.61 L496.71 42.87 L497.68 43.13 L498.64 43.40 L499.60 43.66 L500.56 43.93 L501.52 44.20 L502.48 44.47 L503.44 44.75 L504.40 45.03 L505.36 45.31 L506.31 45.59 L507.27 45.87 L508.22 46.16 L509.18 46.45 L510.13 46.74 L511.09 47.03 L512.04 47.33 L512.99 47.63 L513.94 47.93 L514.89 48.23 L515.84 48.54 L516.79 48.84 L517.74 49.15 L518.69 49.47 L519.64 49.78 L520.58 50.10 L521.53 50.42 L522.47 50.74 L523.41 51.06 L524.36 51.39 L525.30 51.72 L526.24 52.05 L527.18 52.39 L528.12 52.72 L529.06 53.06 L529.99 53.40 L530.93 53.75 L531.87 54.10 L532.80 54.44 L533.74 54.80 L534.67 55.15 L535.60 55.51 L536.53 55.87 L537.46 56.23 L538.39 56.59 L539.32 56.96 L540.24 57.33 L541.17 57.70 L542.10 58.07 L543.02 58.45 L543.94 58.83 L544.86 59.21 L545.79 59.59 L546.70 59.98 L547.62 60.37 L548.54 60.76 L549.46 61.15 L550.37 61.55 L551.29 61.95 L552.20 62.35 L553.11 62.76 L554.02 63.16 L554.93 63.57 L555.84 63.99 L556.75 64.40 L557.65 64.82 L558.56 65.24 L559.46 65.66 L560.36 66.09 L561.27 66.52 L562.16 66.95 L563.06 67.39 L563.96 67.83 L564.85 68.27 L565.75 68.71 L566.64 69.16 L567.53 69.61 L568.42 70.06 L569.30 70.52 L570.19 70.98 L571.07 71.45 L571.95 71.91 L572.83 72.38 L573.71 72.86 L574.59 73.33 L575.46 73.82 L576.33 74.30 L577.20 74.79 L578.07 75.28 L578.94 75.77 L579.80 76.27 L580.67 76.77 L581.53 77.28 L582.38 77.79 L583.24 78.30 L584.09 78.82 L584.94 79.34 L585.79 79.86 L586.64 80.39 L587.48 80.92 L588.32 81.46 L589.16 82.00 L590.00 82.54 L590.83 83.09 L591.67 83.64 L592.50 84.19 L593.33 84.75 L594.15 85.30 L594.98 85.86 L595.81 86.41 L596.65 86.96 L597.48 87.51 L598.32 88.05 L599.16 88.59 L600.00 89.12 L600.85 89.65 L601.70 90.17 L602.56 90.67 L603.43 91.17 L604.30 91.66 L605.17 92.14 L606.06 92.60 L606.95 93.05 L607.84 93.48 L608.75 93.89 L609.68 94.27 L610.62 94.61 L611.57 94.91 L612.54 95.15 L613.52 95.32 L614.51 95.42 L615.51 95.43 L616.50 95.36 L617.49 95.21 L618.46 94.99 L619.42 94.71 L620.36 94.38 L621.29 94.02 L622.20 93.61 L623.10 93.17 L623.98 92.70 L624.84 92.19 L625.68 91.66 L626.50 91.09 L627.30 90.50 L628.09 89.88 L628.85 89.24 L629.59 88.57 L630.31 87.88 L631.01 87.17 L631.69 86.44 L632.36 85.70 L633.01 84.94 L633.64 84.17 L634.26 83.39 L634.86 82.59 L635.45 81.79 L636.03 80.97 L636.60 80.15 L637.16 79.33 L637.71 78.50 L638.25 77.66 L638.79 76.82 L639.32 75.97 L639.85 75.13 L640.37 74.28 L640.90 73.43 L641.42 72.58 L641.94 71.73 L642.46 70.88 L642.99 70.03 L643.52 69.18 L644.05 68.34 L644.59 67.50 L645.13 66.66 L645.68 65.83 L646.24 65.01 L646.81 64.19 L647.39 63.37 L647.97 62.56 L648.56 61.76 L649.16 60.96 L649.77 60.17 L650.39 59.39 L651.01 58.61 L651.65 57.84 L652.29 57.07 L652.94 56.32 L653.60 55.57 L654.26 54.83 L654.94 54.09 L655.62 53.36 L656.31 52.65 L657.01 51.93 L657.72 51.23 L658.44 50.54 L659.16 49.85 L659.90 49.18 L660.64 48.51 L661.39 47.85 L662.14 47.20 L662.91 46.56 L663.69 45.93 L664.47 45.31 L665.26 44.71 L666.06 44.11 L666.87 43.52 L667.68 42.95 L668.50 42.38 L669.33 41.83 L670.17 41.29 L671.02 40.76 L671.87 40.24 L672.73 39.73 L673.59 39.23 L674.46 38.75 L675.34 38.27 L676.23 37.81 L677.11 37.36 L678.01 36.91 L678.91 36.48 L679.81 36.06 L680.72 35.65 L681.63 35.25 L682.55 34.86 L683.48 34.48 L684.40 34.11 L685.33 33.75 L686.27 33.39 L687.20 33.05 L688.14 32.72 L689.09 32.40 L690.03 32.08 L690.98 31.78 L691.94 31.48 L692.89 31.19 L693.85 30.91 L694.81 30.64 L695.77 30.37 L696.73 30.12 L697.70 29.87 L698.67 29.63 L699.64 29.39 L700.61 29.17 L701.58 28.95 L702.56 28.73 L703.53 28.53 L704.51 28.33 L705.49 28.13 L706.47 27.95 L707.45 27.76 L708.43 27.59 L709.42 27.42 L710.40 27.26 L711.39 27.10 L712.37 26.94 L713.36 26.80 L714.35 26.65 L715.33 26.52 L716.32 26.38 L717.31 26.25 L718.30 26.13 L719.29 26.01 L720.28 25.89 L721.28 25.78 L722.27 25.67 L723.26 25.57 L724.25 25.47 L725.24 25.37 L726.24 25.27 L727.23 25.18 L728.23 25.10 L729.22 25.01 L730.21 24.93 L731.21 24.85 L732.20 24.77 L733.20 24.70 L734.19 24.63 L735.19 24.56 L736.18 24.49 L737.18 24.42 L738.17 24.36 L739.17 24.29 L740.17 24.23 L741.16 24.17 L742.16 24.11 L743.15 24.06 L744.15 24.00 L745.15 23.94 L746.14 23.89 L747.14 23.83 L748.14 23.78 L749.13 23.73 L750.13 23.67 L751.12 23.62 L752.12 23.57 L753.12 23.51 L754.11 23.46 L755.11 23.41 L756.11 23.35 L757.10 23.29 L758.10 23.24 L759.09 23.18 L760.09 23.12 L761.09 23.06 L762.08 23.00 L763.08 22.93 L764.07 22.87 L765.07 22.80 L766.06 22.73 L767.06 22.65 L768.05 22.58 L769.05 22.50 L770.04 22.42" stroke="#626262" stroke-width="1.7" stroke-dasharray="6.4 2.7 1.5 2.7"/>
<path d="M457.78 29.77 L458.77 29.87 L459.76 29.97 L460.76 30.08 L461.75 30.19 L462.74 30.30 L463.73 30.41 L464.73 30.53 L465.72 30.65 L466.71 30.77 L467.70 30.89 L468.69 31.02 L469.68 31.15 L470.67 31.28 L471.66 31.42 L472.65 31.56 L473.63 31.70 L474.62 31.84 L475.61 31.98 L476.60 32.13 L477.59 32.28 L478.57 32.43 L479.56 32.59 L480.54 32.74 L481.53 32.90 L482.52 33.07 L483.50 33.23 L484.48 33.40 L485.47 33.57 L486.45 33.74 L487.44 33.91 L488.42 34.09 L489.40 34.26 L490.38 34.44 L491.36 34.63 L492.35 34.81 L493.33 35.00 L494.31 35.19 L495.29 35.38 L496.27 35.57 L497.25 35.77 L498.23 35.96 L499.20 36.16 L500.18 36.36 L501.16 36.57 L502.14 36.77 L503.11 36.98 L504.09 37.19 L505.07 37.40 L506.04 37.61 L507.02 37.82 L507.99 38.04 L508.97 38.26 L509.94 38.48 L510.91 38.70 L511.89 38.93 L512.86 39.15 L513.83 39.38 L514.80 39.61 L515.77 39.84 L516.74 40.07 L517.72 40.30 L518.69 40.54 L519.66 40.78 L520.63 41.01 L521.59 41.25 L522.56 41.50 L523.53 41.74 L524.50 41.98 L525.47 42.23 L526.43 42.48 L527.40 42.73 L528.37 42.98 L529.33 43.23 L530.30 43.48 L531.26 43.74 L532.23 43.99 L533.19 44.25 L534.16 44.51 L535.12 44.77 L536.09 45.03 L537.05 45.30 L538.01 45.56 L538.98 45.82 L539.94 46.09 L540.90 46.36 L541.86 46.63 L542.82 46.90 L543.78 47.17 L544.74 47.44 L545.70 47.71 L546.66 47.99 L547.62 48.26 L548.58 48.54 L549.54 48.82 L550.50 49.10 L551.46 49.38 L552.42 49.66 L553.37 49.95 L554.33 50.24 L555.28 50.52 L556.24 50.81 L557.20 51.11 L558.15 51.40 L559.10 51.70 L560.06 51.99 L561.01 52.29 L561.96 52.60 L562.91 52.90 L563.86 53.21 L564.81 53.52 L565.76 53.83 L566.71 54.14 L567.65 54.46 L568.60 54.78 L569.54 55.10 L570.49 55.42 L571.43 55.75 L572.37 56.08 L573.32 56.42 L574.26 56.75 L575.19 57.09 L576.13 57.43 L577.07 57.78 L578.01 58.13 L578.94 58.48 L579.87 58.83 L580.81 59.19 L581.74 59.55 L582.67 59.92 L583.59 60.29 L584.52 60.66 L585.44 61.03 L586.37 61.41 L587.29 61.80 L588.21 62.18 L589.13 62.58 L590.05 62.97 L590.96 63.37 L591.88 63.77 L592.79 64.18 L593.70 64.58 L594.61 65.00 L595.52 65.41 L596.42 65.83 L597.33 66.25 L598.23 66.67 L599.14 67.10 L600.04 67.53 L600.94 67.96 L601.84 68.39 L602.74 68.83 L603.64 69.26 L604.53 69.70 L605.43 70.14 L606.32 70.59 L607.22 71.03 L608.11 71.48 L609.00 71.92 L609.90 72.37 L610.79 72.82 L611.68 73.27 L612.57 73.72 L613.46 74.17 L614.35 74.63 L615.23 75.11 L616.09 75.60 L616.94 76.12 L617.77 76.69 L618.56 77.29 L619.33 77.93 L620.06 78.61 L620.77 79.31 L621.44 80.05 L622.08 80.82 L622.69 81.61 L623.27 82.42 L623.83 83.25 L624.35 84.10 L624.85 84.96 L625.32 85.84 L625.77 86.74 L626.20 87.64 L626.60 88.55 L626.99 89.47 L627.35 90.40 L627.70 91.34 L628.03 92.28 L628.35 93.22 L628.65 94.18 L628.94 95.13 L629.21 96.09 L629.46 97.06 L629.71 98.03 L629.94 99.00 L630.16 99.97 L630.36 100.95 L630.56 101.93 L630.75 102.91 L630.93 103.89 L631.10 104.88 L631.26 105.86 L631.41 106.85 L631.56 107.84 L631.70 108.82 L631.83 109.81 L631.96 110.80 L632.09 111.79 L632.22 112.78 L632.34 113.78 L632.45 114.77 L632.57 115.76 L632.69 116.75 L632.81 117.74 L632.92 118.73 L633.04 119.72 L633.16 120.72 L633.28 121.71 L633.41 122.70 L633.54 123.69 L633.67 124.68 L633.81 125.67 L633.94 126.65 L634.08 127.64 L634.22 128.63 L634.37 129.62 L634.51 130.61 L634.65 131.60 L634.80 132.58 L634.94 133.57 L635.09 134.56 L635.23 135.55 L635.37 136.54 L635.51 137.53 L635.65 138.51 L635.79 139.50 L635.93 140.49 L636.06 141.48 L636.19 142.47 L636.32 143.46 L636.45 144.45 L636.57 145.44 L636.69 146.43 L636.81 147.43 L636.92 148.42 L637.03 149.41 L637.14 150.40 L637.25 151.39 L637.36 152.39 L637.46 153.38 L637.56 154.37 L637.66 155.37 L637.76 156.36 L637.85 157.35 L637.95 158.35 L638.04 159.34 L638.13 160.34 L638.22 161.33 L638.31 162.33 L638.40 163.32 L638.49 164.32 L638.57 165.31 L638.66 166.30 L638.74 167.30 L638.82 168.29 L638.90 169.29 L638.98 170.29 L639.06 171.28 L639.14 172.28 L639.22 173.27 L639.30 174.27 L639.38 175.26 L639.46 176.26 L639.54 177.25 L639.62 178.25 L639.69 179.24 L639.77 180.24 L639.85 181.23 L639.93 182.23 L640.01 183.22 L640.10 184.22 L640.18 185.21 L640.26 186.21 L640.35 187.20 L640.44 188.20 L640.53 189.19 L640.62 190.19 L640.72 191.18 L640.81 192.17 L640.91 193.17 L641.01 194.16 L641.11 195.15 L641.21 196.15 L641.32 197.14 L641.43 198.13 L641.54 199.13 L641.65 200.12 L641.76 201.11 L641.87 202.10 L641.98 203.09 L642.10 204.09 L642.22 205.08 L642.34 206.07 L642.47 207.06 L642.60 208.05 L642.74 209.04 L642.88 210.03 L643.04 211.01 L643.21 212.00 L643.40 212.98 L643.63 213.95 L643.96 214.89 L644.62 214.93 L644.94 213.99 L645.16 213.02 L645.34 212.03 L645.50 211.05 L645.65 210.06 L645.79 209.07 L645.92 208.08 L646.04 207.09 L646.16 206.10 L646.28 205.11 L646.39 204.12 L646.50 203.12 L646.61 202.13 L646.72 201.14 L646.83 200.15 L646.95 199.16 L647.06 198.16 L647.17 197.17 L647.28 196.18 L647.39 195.19 L647.50 194.19 L647.60 193.20 L647.71 192.21 L647.82 191.22 L647.92 190.22 L648.03 189.23 L648.13 188.24 L648.23 187.24 L648.33 186.25 L648.42 185.26 L648.51 184.26 L648.61 183.27 L648.69 182.27 L648.78 181.28 L648.86 180.28 L648.94 179.29 L649.01 178.29 L649.09 177.30 L649.16 176.30 L649.23 175.30 L649.29 174.31 L649.35 173.31 L649.41 172.31 L649.47 171.32 L649.52 170.32 L649.57 169.32 L649.62 168.33 L649.66 167.33 L649.70 166.33 L649.74 165.33 L649.78 164.34 L649.81 163.34 L649.84 162.34 L649.87 161.34 L649.89 160.34 L649.91 159.35 L649.92 158.35 L649.94 157.35 L649.95 156.35 L649.96 155.35 L649.97 154.35 L649.98 153.35 L649.99 152.36 L650.01 151.36 L650.02 150.36 L650.05 149.36 L650.07 148.36 L650.10 147.37 L650.14 146.37 L650.19 145.37 L650.24 144.37 L650.30 143.38 L650.37 142.38 L650.45 141.39 L650.54 140.39 L650.63 139.40 L650.73 138.40 L650.84 137.41 L650.95 136.42 L651.06 135.43 L651.17 134.43 L651.29 133.44 L651.41 132.45 L651.52 131.46 L651.64 130.47 L651.76 129.48 L651.87 128.48 L651.98 127.49 L652.08 126.50 L652.18 125.50 L652.27 124.51 L652.36 123.52 L652.43 122.52 L652.50 121.52 L652.56 120.53 L652.61 119.53 L652.66 118.53 L652.70 117.54 L652.73 116.54 L652.76 115.54 L652.79 114.54 L652.81 113.54 L652.83 112.54 L652.86 111.55 L652.88 110.55 L652.91 109.55 L652.94 108.55 L652.98 107.55 L653.02 106.56 L653.07 105.56 L653.13 104.56 L653.19 103.57 L653.27 102.57 L653.35 101.58 L653.45 100.58 L653.56 99.59 L653.69 98.60 L653.82 97.61 L653.96 96.62 L654.11 95.63 L654.26 94.65 L654.42 93.66 L654.57 92.67 L654.72 91.69 L654.86 90.70 L655.00 89.71 L655.14 88.72 L655.26 87.73 L655.39 86.74 L655.51 85.75 L655.62 84.76 L655.74 83.77 L655.85 82.77 L655.97 81.78 L656.08 80.79 L656.19 79.80 L656.31 78.81 L656.42 77.81 L656.54 76.82 L656.66 75.83 L656.79 74.84 L656.92 73.85 L657.06 72.86 L657.20 71.87 L657.35 70.89 L657.51 69.90 L657.67 68.92 L657.85 67.93 L658.03 66.95 L658.22 65.97 L658.43 65.00 L658.65 64.02 L658.87 63.05 L659.12 62.08 L659.37 61.11 L659.64 60.15 L659.93 59.20 L660.22 58.24 L660.54 57.30 L660.87 56.35 L661.22 55.42 L661.58 54.49 L661.97 53.57 L662.37 52.65 L662.79 51.75 L663.24 50.86 L663.70 49.97 L664.19 49.10 L664.70 48.24 L665.24 47.40 L665.80 46.58 L666.39 45.77 L667.00 44.98 L667.64 44.21 L668.31 43.47 L669.00 42.75 L669.72 42.06 L670.47 41.40 L671.24 40.77 L672.04 40.16 L672.85 39.58 L673.68 39.03 L674.52 38.50 L675.38 37.99 L676.26 37.50 L677.14 37.04 L678.03 36.59 L678.93 36.16 L679.84 35.75 L680.76 35.36 L681.68 34.97 L682.61 34.61 L683.54 34.25 L684.48 33.90 L685.42 33.57 L686.36 33.24 L687.31 32.92 L688.26 32.61 L689.21 32.32 L690.17 32.03 L691.13 31.75 L692.09 31.47 L693.05 31.21 L694.01 30.95 L694.98 30.70 L695.95 30.46 L696.92 30.22 L697.89 29.99 L698.86 29.76 L699.84 29.54 L700.81 29.33 L701.79 29.12 L702.77 28.91 L703.74 28.71 L704.72 28.52 L705.70 28.33 L706.69 28.15 L707.67 27.97 L708.65 27.79 L709.63 27.62 L710.62 27.46 L711.60 27.30 L712.59 27.14 L713.58 26.99 L714.56 26.84 L715.55 26.69 L716.54 26.55 L717.53 26.42 L718.52 26.28 L719.51 26.15 L720.50 26.03 L721.49 25.91 L722.48 25.79 L723.47 25.67 L724.47 25.56 L725.46 25.45 L726.45 25.35 L727.44 25.25 L728.44 25.15 L729.43 25.05 L730.43 24.96 L731.42 24.87 L732.42 24.78 L733.41 24.69 L734.40 24.61 L735.40 24.53 L736.40 24.45 L737.39 24.37 L738.39 24.29 L739.38 24.22 L740.38 24.15 L741.37 24.08 L742.37 24.01 L743.37 23.95 L744.36 23.88 L745.36 23.82 L746.36 23.76 L747.35 23.70 L748.35 23.64 L749.35 23.58 L750.34 23.53 L751.34 23.47 L752.34 23.42 L753.33 23.36 L754.33 23.31 L755.33 23.26 L756.32 23.20 L757.32 23.15 L758.32 23.10 L759.32 23.05 L760.31 23.00 L761.31 22.95 L762.31 22.90 L763.31 22.85 L764.30 22.80 L765.30 22.75 L766.30 22.69 L767.29 22.64 L768.29 22.59 L769.29 22.54 L770.28 22.48" stroke="#f01010" stroke-width="2"/>
<path d="M457.76 29.78 L458.76 29.87 L459.75 29.97 L460.75 30.07 L461.74 30.18 L462.73 30.29 L463.73 30.40 L464.72 30.51 L465.71 30.63 L466.70 30.75 L467.69 30.88 L468.68 31.00 L469.68 31.13 L470.67 31.26 L471.66 31.40 L472.64 31.53 L473.63 31.67 L474.62 31.82 L475.61 31.96 L476.60 32.11 L477.59 32.26 L478.57 32.41 L479.56 32.57 L480.55 32.73 L481.53 32.89 L482.52 33.05 L483.50 33.22 L484.49 33.39 L485.47 33.56 L486.46 33.73 L487.44 33.91 L488.42 34.08 L489.41 34.26 L490.39 34.44 L491.37 34.63 L492.35 34.82 L493.33 35.00 L494.31 35.20 L495.29 35.39 L496.27 35.58 L497.25 35.78 L498.23 35.98 L499.21 36.18 L500.19 36.38 L501.17 36.59 L502.14 36.80 L503.12 37.01 L504.10 37.22 L505.07 37.43 L506.05 37.64 L507.03 37.86 L508.00 38.08 L508.98 38.30 L509.95 38.52 L510.92 38.74 L511.90 38.97 L512.87 39.19 L513.84 39.42 L514.82 39.65 L515.79 39.88 L516.76 40.11 L517.73 40.35 L518.70 40.58 L519.67 40.82 L520.64 41.05 L521.61 41.29 L522.58 41.53 L523.55 41.78 L524.52 42.02 L525.49 42.26 L526.46 42.51 L527.43 42.76 L528.39 43.00 L529.36 43.25 L530.33 43.50 L531.30 43.75 L532.26 44.01 L533.23 44.26 L534.19 44.51 L535.16 44.77 L536.13 45.03 L537.09 45.29 L538.06 45.55 L539.02 45.81 L539.98 46.07 L540.95 46.33 L541.91 46.60 L542.87 46.87 L543.83 47.14 L544.80 47.41 L545.76 47.68 L546.72 47.95 L547.68 48.23 L548.64 48.50 L549.60 48.78 L550.56 49.06 L551.51 49.35 L552.47 49.63 L553.43 49.92 L554.39 50.21 L555.34 50.50 L556.30 50.79 L557.25 51.09 L558.21 51.38 L559.16 51.68 L560.11 51.98 L561.06 52.29 L562.01 52.59 L562.97 52.90 L563.91 53.21 L564.86 53.52 L565.81 53.84 L566.76 54.15 L567.71 54.47 L568.65 54.80 L569.60 55.12 L570.54 55.45 L571.48 55.78 L572.42 56.11 L573.37 56.45 L574.31 56.78 L575.25 57.12 L576.18 57.47 L577.12 57.81 L578.06 58.16 L578.99 58.52 L579.93 58.87 L580.86 59.23 L581.79 59.59 L582.72 59.95 L583.65 60.32 L584.58 60.69 L585.50 61.06 L586.43 61.44 L587.35 61.82 L588.28 62.20 L589.20 62.59 L590.12 62.98 L591.04 63.37 L591.95 63.77 L592.87 64.16 L593.78 64.57 L594.70 64.97 L595.61 65.38 L596.52 65.80 L597.43 66.21 L598.33 66.63 L599.24 67.06 L600.14 67.48 L601.04 67.92 L601.94 68.35 L602.84 68.79 L603.73 69.23 L604.63 69.68 L605.52 70.13 L606.41 70.58 L607.30 71.03 L608.19 71.49 L609.08 71.95 L609.96 72.42 L610.84 72.88 L611.73 73.35 L612.61 73.82 L613.49 74.30 L614.37 74.77 L615.24 75.25 L616.12 75.72 L617.00 76.20 L617.87 76.69 L618.75 77.17 L619.62 77.65 L620.50 78.13 L621.37 78.62 L622.24 79.10 L623.12 79.59 L623.99 80.07 L624.86 80.56 L625.74 81.05 L626.61 81.53 L627.48 82.02 L628.36 82.50 L629.23 82.99 L630.11 83.47 L630.98 83.95 L631.86 84.43 L632.73 84.91 L633.61 85.39 L634.48 85.87 L635.36 86.35 L636.24 86.82 L637.12 87.29 L638.01 87.76 L638.90 88.21 L639.80 88.65 L640.70 89.07 L641.62 89.48 L642.54 89.85 L643.48 90.20 L644.42 90.52 L645.38 90.79 L646.36 91.03 L647.34 91.21 L648.33 91.34 L649.32 91.42 L650.32 91.43 L651.32 91.38 L652.31 91.27 L653.30 91.10 L654.27 90.88 L655.23 90.61 L656.18 90.30 L657.12 89.95 L658.04 89.56 L658.94 89.14 L659.83 88.68 L660.70 88.18 L661.55 87.66 L662.37 87.10 L663.18 86.51 L663.97 85.90 L664.74 85.26 L665.49 84.60 L666.22 83.91 L666.93 83.21 L667.62 82.49 L668.29 81.75 L668.95 81.00 L669.60 80.24 L670.22 79.46 L670.84 78.68 L671.44 77.88 L672.04 77.08 L672.62 76.26 L673.19 75.45 L673.76 74.62 L674.32 73.79 L674.87 72.96 L675.42 72.13 L675.97 71.30 L676.52 70.46 L677.08 69.63 L677.64 68.80 L678.21 67.98 L678.78 67.17 L679.37 66.36 L679.97 65.56 L680.58 64.77 L681.20 63.99 L681.85 63.22 L682.51 62.48 L683.19 61.74 L683.89 61.03 L684.62 60.35 L685.37 59.69 L686.15 59.06 L686.95 58.47 L687.79 57.93 L688.67 57.45 L689.57 57.03 L690.51 56.68 L691.48 56.43 L692.46 56.28 L693.46 56.24 L694.46 56.31 L695.44 56.50 L696.39 56.79 L697.31 57.18 L698.19 57.65 L699.04 58.19 L699.86 58.75 L700.68 59.32 L701.53 59.84 L702.44 60.26 L703.42 60.40 L704.37 60.10 L705.19 59.53 L705.90 58.83 L706.56 58.08 L707.17 57.29 L707.74 56.47 L708.28 55.63 L708.78 54.76 L709.25 53.88 L709.70 52.99 L710.12 52.08 L710.52 51.17 L710.91 50.25 L711.28 49.32 L711.64 48.39 L711.99 47.45 L712.34 46.52 L712.68 45.58 L713.02 44.64 L713.35 43.70 L713.69 42.76 L714.04 41.82 L714.39 40.88 L714.74 39.95 L715.11 39.02 L715.49 38.10 L715.89 37.18 L716.31 36.27 L716.75 35.38 L717.21 34.49 L717.70 33.62 L718.23 32.77 L718.78 31.94 L719.38 31.14 L720.01 30.37 L720.69 29.63 L721.42 28.95 L722.18 28.31 L723.00 27.73 L723.85 27.21 L724.73 26.74 L725.65 26.34 L726.58 25.98 L727.53 25.67 L728.49 25.39 L729.46 25.16 L730.44 24.95 L731.42 24.78 L732.41 24.63 L733.40 24.50 L734.39 24.39 L735.39 24.30 L736.38 24.22 L737.38 24.15 L738.38 24.09 L739.38 24.04 L740.37 23.99 L741.37 23.95 L742.37 23.90 L743.37 23.86 L744.37 23.81 L745.36 23.76 L746.36 23.71 L747.36 23.66 L748.36 23.61 L749.35 23.56 L750.35 23.51 L751.35 23.46 L752.35 23.41 L753.35 23.36 L754.34 23.31 L755.34 23.25 L756.34 23.20 L757.34 23.15 L758.33 23.09 L759.33 23.04 L760.33 22.99 L761.33 22.94 L762.32 22.89 L763.32 22.84 L764.32 22.79 L765.32 22.74 L766.32 22.69 L767.31 22.64 L768.31 22.59 L769.31 22.54 L770.31 22.50" stroke="#1010f0" stroke-width="2" stroke-dasharray="4.8 2.8"/>
</g>
<rect x="457.7" y="1.6" width="313.1" height="229.9" fill="none" stroke="#222" stroke-width="1"/>
<path d="M454.7 1.83H457.7 M452.5 19.50H457.7 M454.7 37.17H457.7 M452.5 54.84H457.7 M454.7 72.50H457.7 M452.5 90.17H457.7 M454.7 107.84H457.7 M452.5 125.50H457.7 M454.7 143.17H457.7 M452.5 160.84H457.7 M454.7 178.51H457.7 M452.5 196.18H457.7 M454.7 213.84H457.7 M452.5 231.51H457.7 M457.70 231.5V236.7 M489.01 231.5V234.5 M520.32 231.5V236.7 M551.63 231.5V234.5 M582.94 231.5V236.7 M614.25 231.5V234.5 M645.56 231.5V236.7 M676.87 231.5V234.5 M708.18 231.5V236.7 M739.49 231.5V234.5 M770.80 231.5V236.7" stroke="#222" stroke-width="1" fill="none"/>
<g font-family="Liberation Sans, sans-serif" font-size="14.7" fill="#111" text-anchor="end">
<text x="449.6" y="23.8">0</text>
<text x="449.6" y="59.1">-5</text>
<text x="449.6" y="94.5">-10</text>
<text x="449.6" y="129.8">-15</text>
<text x="449.6" y="165.1">-20</text>
<text x="449.6" y="200.5">-25</text>
<text x="449.6" y="235.8">-30</text>
</g><g font-family="Liberation Sans, sans-serif" font-size="14.7" fill="#111" text-anchor="middle">
<text x="457.7" y="250.8">60</text>
<text x="520.3" y="250.8">80</text>
<text x="582.9" y="250.8">100</text>
<text x="645.6" y="250.8">120</text>
<text x="708.2" y="250.8">140</text>
<text x="770.8" y="250.8">160</text>
</g>
<text x="614.1" y="272.1" text-anchor="middle" font-family="Liberation Sans, sans-serif" font-size="17" fill="#111">Temperatrure (K)</text>
<text transform="translate(421.2,119.2) rotate(-90)" text-anchor="middle" font-family="Liberation Sans, sans-serif" font-size="17" fill="#111">Temperature derivative (G K<tspan font-size="10.5" dy="-6.5" dx="0.3">&#8722;1</tspan><tspan dy="6.5" dx="0.6">)</tspan></text>
<text x="463.1" y="18.8" font-family="Liberation Sans, sans-serif" font-size="17" fill="#111">(b)</text>
<rect x="655.6" y="106.4" width="108.8" height="92.4" fill="#fff" stroke="#555" stroke-width="1"/>
<path d="M661.8 119.7H695" stroke="#626262" stroke-width="1.7" stroke-dasharray="6.4 2.7 1.5 2.7"/>
<path d="M662 161.4H698.7" stroke="#f01010" stroke-width="2"/>
<path d="M662.3 182.5H697" stroke="#1010f0" stroke-width="2" stroke-dasharray="4.8 2.9"/>
<text transform="translate(702.47,125.60) scale(1.040,1)" font-family="Liberation Serif, serif" fill="#111" font-size="15.5" font-style="italic">j</text><text x="706.90" y="131.60" font-family="Liberation Serif, serif" fill="#111" font-size="9.2">0</text><text transform="translate(714.31,125.60) scale(1.040,1)" font-family="Liberation Serif, serif" fill="#111" font-size="15.5">=</text><text transform="translate(727.50,125.60) scale(1.040,1)" font-family="Liberation Serif, serif" fill="#111" font-size="15.5">0</text>
<text transform="translate(662.77,145.90) scale(1.040,1)" font-family="Liberation Serif, serif" fill="#111" font-size="15.5" font-style="italic">j</text><text x="667.20" y="151.90" font-family="Liberation Serif, serif" fill="#111" font-size="9.2">0</text><text transform="translate(674.61,145.90) scale(1.040,1)" font-family="Liberation Serif, serif" fill="#111" font-size="15.5">=</text><text transform="translate(688.20,145.90) scale(1.040,1)" font-family="Liberation Serif, serif" fill="#111" font-size="15.5">0.1</text><text transform="translate(707.60,145.90) scale(1.040,1)" font-family="Liberation Serif, serif" fill="#111" font-size="15.5" font-style="italic">J</text><text x="714.50" y="151.90" font-family="Liberation Serif, serif" fill="#111" font-size="9.2">m</text><text transform="translate(721.21,145.90) scale(1.040,1)" font-family="Liberation Serif, serif" fill="#111" font-size="15.5">:</text>
<text x="702.50" y="166.80" font-family="Liberation Serif, serif" fill="#111" font-size="14">&#916;</text><text x="711.10" y="172.80" font-family="Liberation Serif, serif" fill="#111" font-size="9.2">0</text><text transform="translate(718.51,166.80) scale(1.040,1)" font-family="Liberation Serif, serif" fill="#111" font-size="15.5">=</text><text transform="translate(732.20,166.80) scale(1.040,1)" font-family="Liberation Serif, serif" fill="#111" font-size="15.5">10</text><text transform="translate(750.70,166.80) scale(1.040,1)" font-family="Liberation Serif, serif" fill="#111" font-size="15.5">K</text>
<text x="702.50" y="187.10" font-family="Liberation Serif, serif" fill="#111" font-size="14">&#916;</text><text x="711.10" y="193.10" font-family="Liberation Serif, serif" fill="#111" font-size="9.2">0</text><text transform="translate(718.51,187.10) scale(1.040,1)" font-family="Liberation Serif, serif" fill="#111" font-size="15.5">=</text><text transform="translate(732.20,187.10) scale(1.040,1)" font-family="Liberation Serif, serif" fill="#111" font-size="15.5">30</text><text transform="translate(750.70,187.10) scale(1.040,1)" font-family="Liberation Serif, serif" fill="#111" font-size="15.5">K</text>
</svg>
</body></html>
